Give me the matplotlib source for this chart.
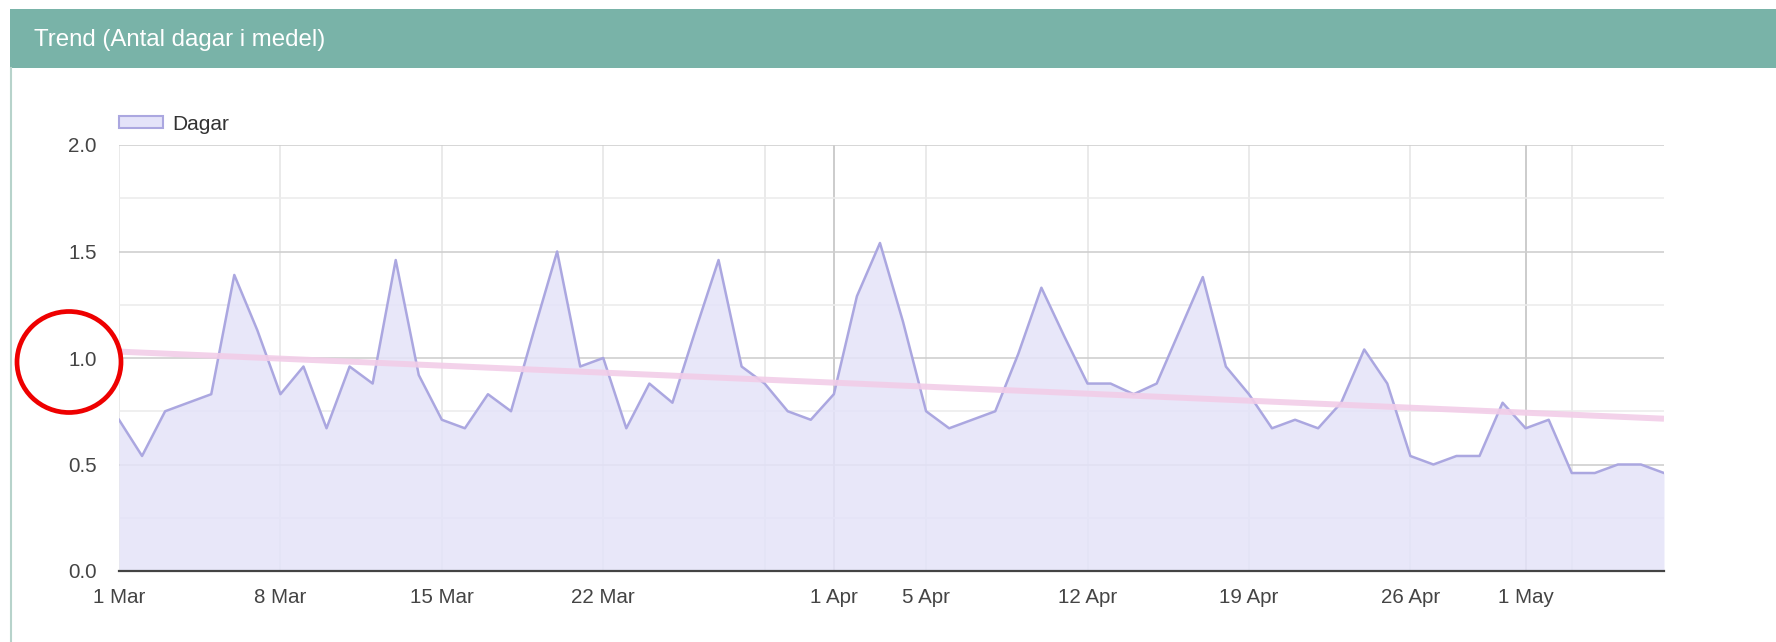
import numpy as np
import pandas as pd
import matplotlib
matplotlib.use('Agg')
import matplotlib.pyplot as plt
from matplotlib.patches import Rectangle, Ellipse, Patch
from matplotlib.lines import Line2D

plt.rcParams['font.family'] = ['Liberation Sans', 'DejaVu Sans']

# daily average "Dagar", 1 Mar - 7 May 2020
dates = pd.date_range('2020-03-01', '2020-05-07', freq='D')
dagar = [0.71, 0.54, 0.75, 0.79, 0.83, 1.39, 1.13, 0.83, 0.96, 0.67,
         0.96, 0.88, 1.46, 0.92, 0.71, 0.67, 0.83, 0.75, 1.13, 1.50,
         0.96, 1.00, 0.67, 0.88, 0.79, 1.13, 1.46, 0.96, 0.88, 0.75,
         0.71, 0.83, 1.29, 1.54, 1.17, 0.75, 0.67, 0.71, 0.75, 1.02,
         1.33, 1.10, 0.88, 0.88, 0.83, 0.88, 1.13, 1.38, 0.96, 0.83,
         0.67, 0.71, 0.67, 0.79, 1.04, 0.88, 0.54, 0.50, 0.54, 0.54,
         0.79, 0.67, 0.71, 0.46, 0.46, 0.50, 0.50, 0.46]

trend_dates = [dates[0], dates[-1]]
trend_vals = [1.03, 0.715]

tick_dates = pd.to_datetime(['2020-03-01', '2020-03-08', '2020-03-15', '2020-03-22',
                             '2020-04-01', '2020-04-05', '2020-04-12', '2020-04-19',
                             '2020-04-26', '2020-05-01'])
tick_labels = ['1 Mar', '8 Mar', '15 Mar', '22 Mar', '1 Apr', '5 Apr',
               '12 Apr', '19 Apr', '26 Apr', '1 May']
extra_grid = pd.to_datetime(['2020-03-29', '2020-05-03'])
month_starts = pd.to_datetime(['2020-04-01', '2020-05-01'])

line_col = '#aba7e0'
fill_col = '#e4e3f9'
trend_col = '#f2cde8'

W, H = 1776, 642
fig = plt.figure(figsize=(W / 100, H / 100), dpi=100)
fig.patch.set_facecolor('white')

# panel header + border
fig.add_artist(Rectangle((10 / W, 1 - 68 / H), 1 - 10 / W, 59 / H,
                         transform=fig.transFigure, facecolor='#79b3a8',
                         edgecolor='none', zorder=0))
fig.add_artist(Line2D([10.5 / W, 10.5 / W], [0, 1 - 68 / H], transform=fig.transFigure,
                      color='#b7d3cb', lw=1.5))
fig.text(34 / W, 1 - 40 / H, 'Trend (Antal dagar i medel)', color='white',
         fontsize=17.3, va='center', ha='left')

ax = fig.add_axes([119 / W, 1 - 571 / H, (1664 - 119) / W, (571 - 145) / H])

ax.fill_between(dates, dagar, 0, color=fill_col, zorder=2, lw=0, alpha=0.85)
ax.plot(dates, dagar, color=line_col, lw=1.8, zorder=3)
ax.plot(trend_dates, trend_vals, color=trend_col, lw=4.3, alpha=0.9, zorder=4,
        solid_capstyle='butt')

ax.set_xlim(dates[0], dates[-1])
ax.set_ylim(0, 2)

# y axis
ax.set_yticks([0, 0.5, 1.0, 1.5, 2.0])
ax.set_yticklabels(['0.0', '0.5', '1.0', '1.5', '2.0'])
ax.set_yticks([0.25, 0.75, 1.25, 1.75], minor=True)
ax.grid(axis='y', which='major', color='#cfcfcf', lw=1.2, zorder=1)
ax.grid(axis='y', which='minor', color='#ececec', lw=1.2, zorder=1)

# x axis
ax.set_xticks(tick_dates)
ax.set_xticklabels(tick_labels)
for d in list(tick_dates) + list(extra_grid):
    c = '#c4c4c4' if d in month_starts else '#e6e6e6'
    ax.axvline(d, color=c, lw=1.2, zorder=1)

ax.tick_params(axis='both', which='both', length=0, labelsize=14.8, colors='#444444')
ax.tick_params(axis='y', pad=16)
ax.tick_params(axis='x', pad=12)

for s in ['top', 'right', 'left']:
    ax.spines[s].set_visible(False)
ax.spines['bottom'].set_color('#444444')
ax.spines['bottom'].set_linewidth(1.6)
ax.spines['bottom'].set_zorder(5)

handle = Patch(facecolor=fill_col, edgecolor=line_col, lw=1.5)
fig.legend([handle], ['Dagar'], loc='center left',
           bbox_to_anchor=(119 / W, 1 - 124 / H), frameon=False,
           fontsize=15, handlelength=2.1, handleheight=0.5,
           borderpad=0, borderaxespad=0, handletextpad=0.45, labelcolor='#333333')

# red highlight circle around the 1.0 label
fig.add_artist(Ellipse((69 / W, 1 - 362 / H), 104 / W, 101 / H, transform=fig.transFigure,
                       facecolor='none', edgecolor='#ee0000', lw=3.4, zorder=10))

plt.savefig('out.png', dpi=100, facecolor='white')
